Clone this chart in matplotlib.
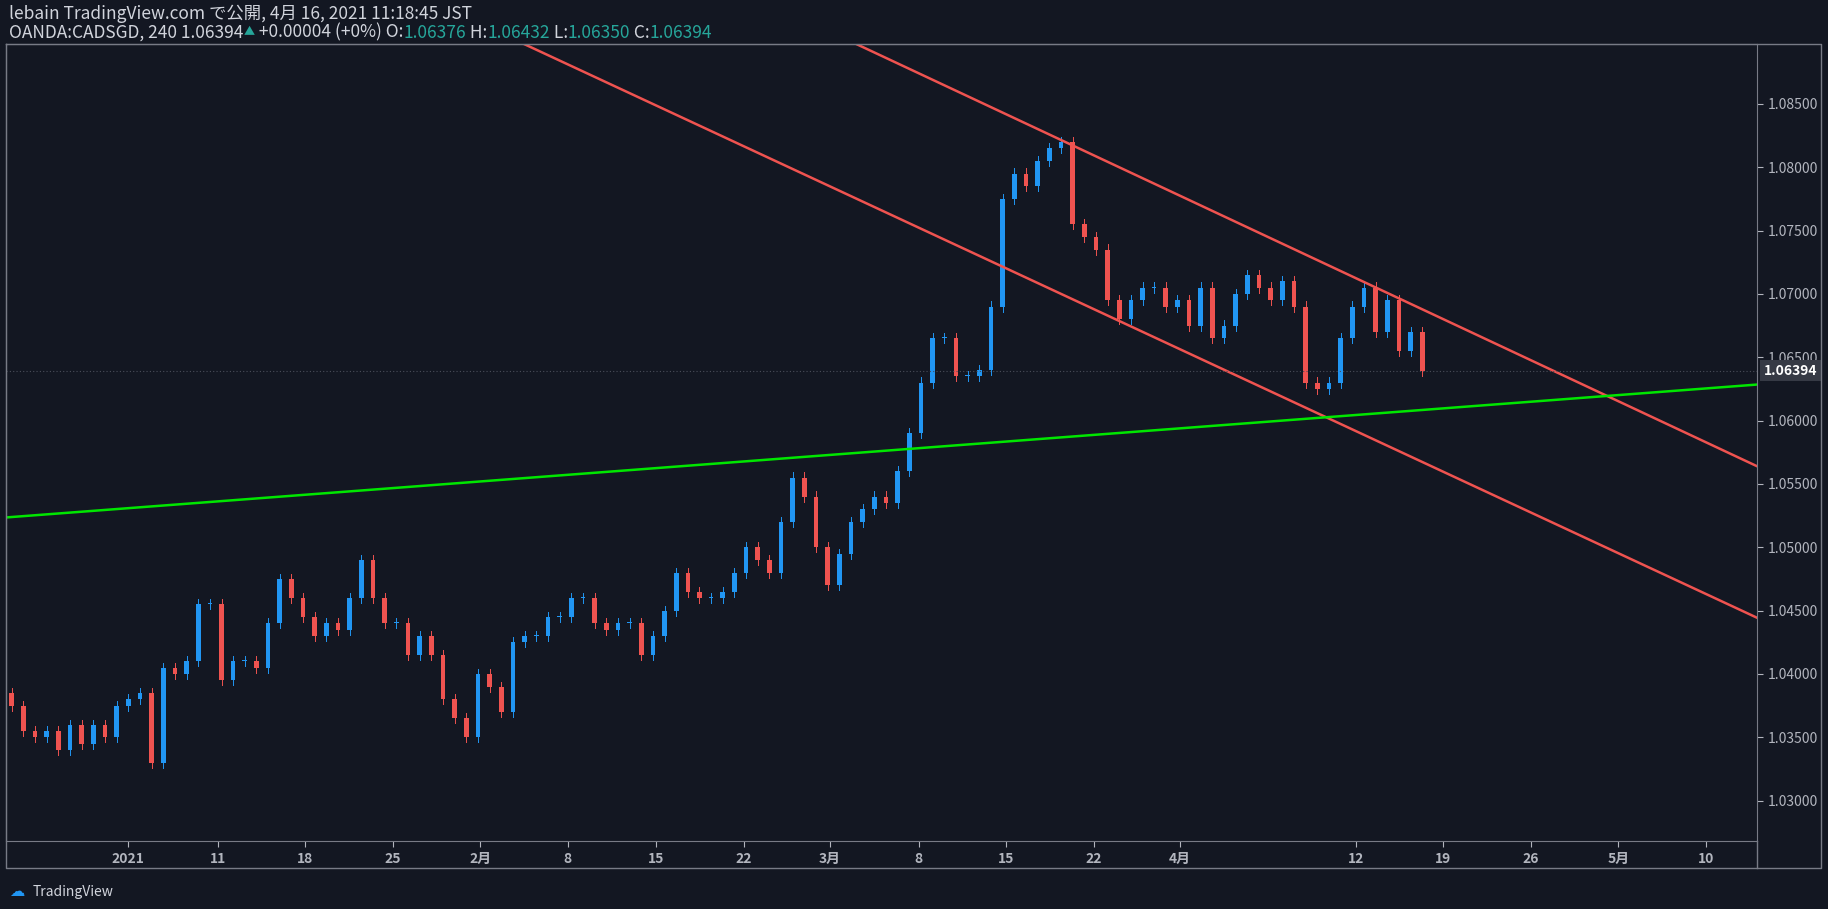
import matplotlib
matplotlib.use("Agg")
import matplotlib.pyplot as plt
from matplotlib.patches import Rectangle

plt.rcParams["font.family"] = ["Noto Sans CJK JP", "DejaVu Sans"]

first_open = 1.0385
closes = [1.0375,1.0355,1.035,1.0355,1.034,1.036,1.0345,1.036,1.035,1.0375,1.038,1.0385,1.033,1.0405,1.040,1.041,1.0455,1.0455,1.0395,1.041,
          1.041,1.0405,1.044,1.0475,1.046,1.0445,1.043,1.044,1.0435,1.046,1.049,1.046,1.044,1.044,1.0415,1.043,1.0415,1.038,1.0365,1.035,
          1.040,1.039,1.037,1.0425,1.043,1.043,1.0445,1.0445,1.046,1.046,1.044,1.0435,1.044,1.044,1.0415,1.043,1.045,1.048,1.0465,1.046,
          1.046,1.0465,1.048,1.050,1.049,1.048,1.052,1.0555,1.054,1.050,1.047,1.0495,1.052,1.053,1.054,1.0535,1.056,1.059,1.063,1.0665,
          1.0665,1.0635,1.0635,1.064,1.069,1.0775,1.0795,1.0785,1.0805,1.0815,1.082,1.0755,1.0745,1.0735,1.0695,1.068,1.0695,1.0705,1.0705,1.069,
          1.0695,1.0675,1.0705,1.0665,1.0675,1.070,1.0715,1.0705,1.0695,1.071,1.069,1.063,1.0625,1.063,1.0665,1.069,1.0705,1.067,1.0695,1.0655,
          1.067,1.06394]
tick_pos = [110,187,262,337,412,487,563,638,712,788,863,938,1012,1163,1238,1313,1388,1463]
tick_labels = ["2021","11","18","25","2月","8","15","22","3月","8","15","22","4月","12","19","26","5月","10"]
price_ticks = [1.030,1.035,1.040,1.045,1.050,1.055,1.060,1.065,1.070,1.075,1.080,1.085]
last_price = 1.06394
upper_line = [(735,1.0897),(1507,1.0564)]
lower_line = [(450,1.0897),(1507,1.04444)]
green_line = [(5,1.05235),(1507,1.06284)]

BG = "#131722"; UP = "#2196f3"; DN = "#ef5350"; TXT = "#b2b5be"
W, H = 1568, 780
fig = plt.figure(figsize=(18.28, 9.09), dpi=100, facecolor=BG)
ax = fig.add_axes([5/W, 1-722/H, (1507-5)/W, (722-38)/H], facecolor=BG)
ax.set_xlim(5, 1507); ax.set_ylim(1.02678, 1.0897)

xs = [10 + 10*i for i in range(len(closes))]
prev = first_open
for x, c in zip(xs, closes):
    o = prev
    col = UP if c >= o else DN
    lo, hi = min(o, c), max(o, c)
    ax.add_patch(Rectangle((x-2, lo), 4, max(hi-lo, 0.00008), color=col, lw=0))
    ax.plot([x, x], [lo-0.0004, hi+0.0004], color=col, lw=0.7)
    prev = c

for ln, col in [(upper_line, DN), (lower_line, DN), (green_line, "#00e600")]:
    ax.plot([p[0] for p in ln], [p[1] for p in ln], color=col, lw=1.8)
ax.axhline(last_price, color="#4a4e5a", lw=0.8, ls=(0, (1, 2)))

ax.set_xticks(tick_pos); ax.set_xticklabels(tick_labels)
ax.yaxis.tick_right()
ax.set_yticks(price_ticks); ax.set_yticklabels([f"{p:.5f}" for p in price_ticks])
ax.tick_params(colors=TXT, labelsize=10, length=4)
for lab in ax.get_xticklabels():
    lab.set_fontweight("bold")
for s in ax.spines.values():
    s.set_color("#787b86")
ax.text(1.004, last_price, f"{last_price:.5f}", transform=ax.get_yaxis_transform(), va="center", ha="left",
        color="white", fontsize=10, fontweight="bold", bbox=dict(boxstyle="square,pad=0.25", fc="#363a45", ec="none"))

fig.text(8/W, 1-12/H, "lebain TradingView.com で公開, 4月 16, 2021 11:18:45 JST", color="#d1d4dc", fontsize=12.5, va="center")
t = fig.text(8/W, 1-28/H, "OANDA:CADSGD, 240 1.06394", color="#d1d4dc", fontsize=12.5, va="center")
parts = [("▲", "#26a69a"), (" +0.00004 (+0%) O:", "#d1d4dc"), ("1.06376", "#26a69a"), (" H:", "#d1d4dc"),
         ("1.06432", "#26a69a"), (" L:", "#d1d4dc"), ("1.06350", "#26a69a"), (" C:", "#d1d4dc"), ("1.06394", "#26a69a")]
fig.canvas.draw()
r = fig.canvas.get_renderer()
x0 = t.get_window_extent(r).x1
for s, c in parts:
    tt = fig.text(x0/fig.bbox.width, 1-28/H, s, color=c, fontsize=12.5 if s != "▲" else 8, va="center")
    x0 = tt.get_window_extent(r).x1
fig.add_artist(plt.Line2D([5/W, 1562/W, 1562/W, 5/W, 5/W], [1-38/H, 1-38/H, 1-745/H, 1-745/H, 1-38/H], color="#787b86", lw=1))
fig.add_artist(plt.Line2D([1507/W, 1507/W], [1-745/H, 1-722/H], color="#787b86", lw=1))
fig.text(28/W, 1-765/H, "TradingView", color="#d1d4dc", fontsize=10, va="center")
fig.text(8/W, 1-765/H, "☁", color="#2196f3", fontsize=11, va="center", family="DejaVu Sans")
fig.savefig("out.png", facecolor=BG)
